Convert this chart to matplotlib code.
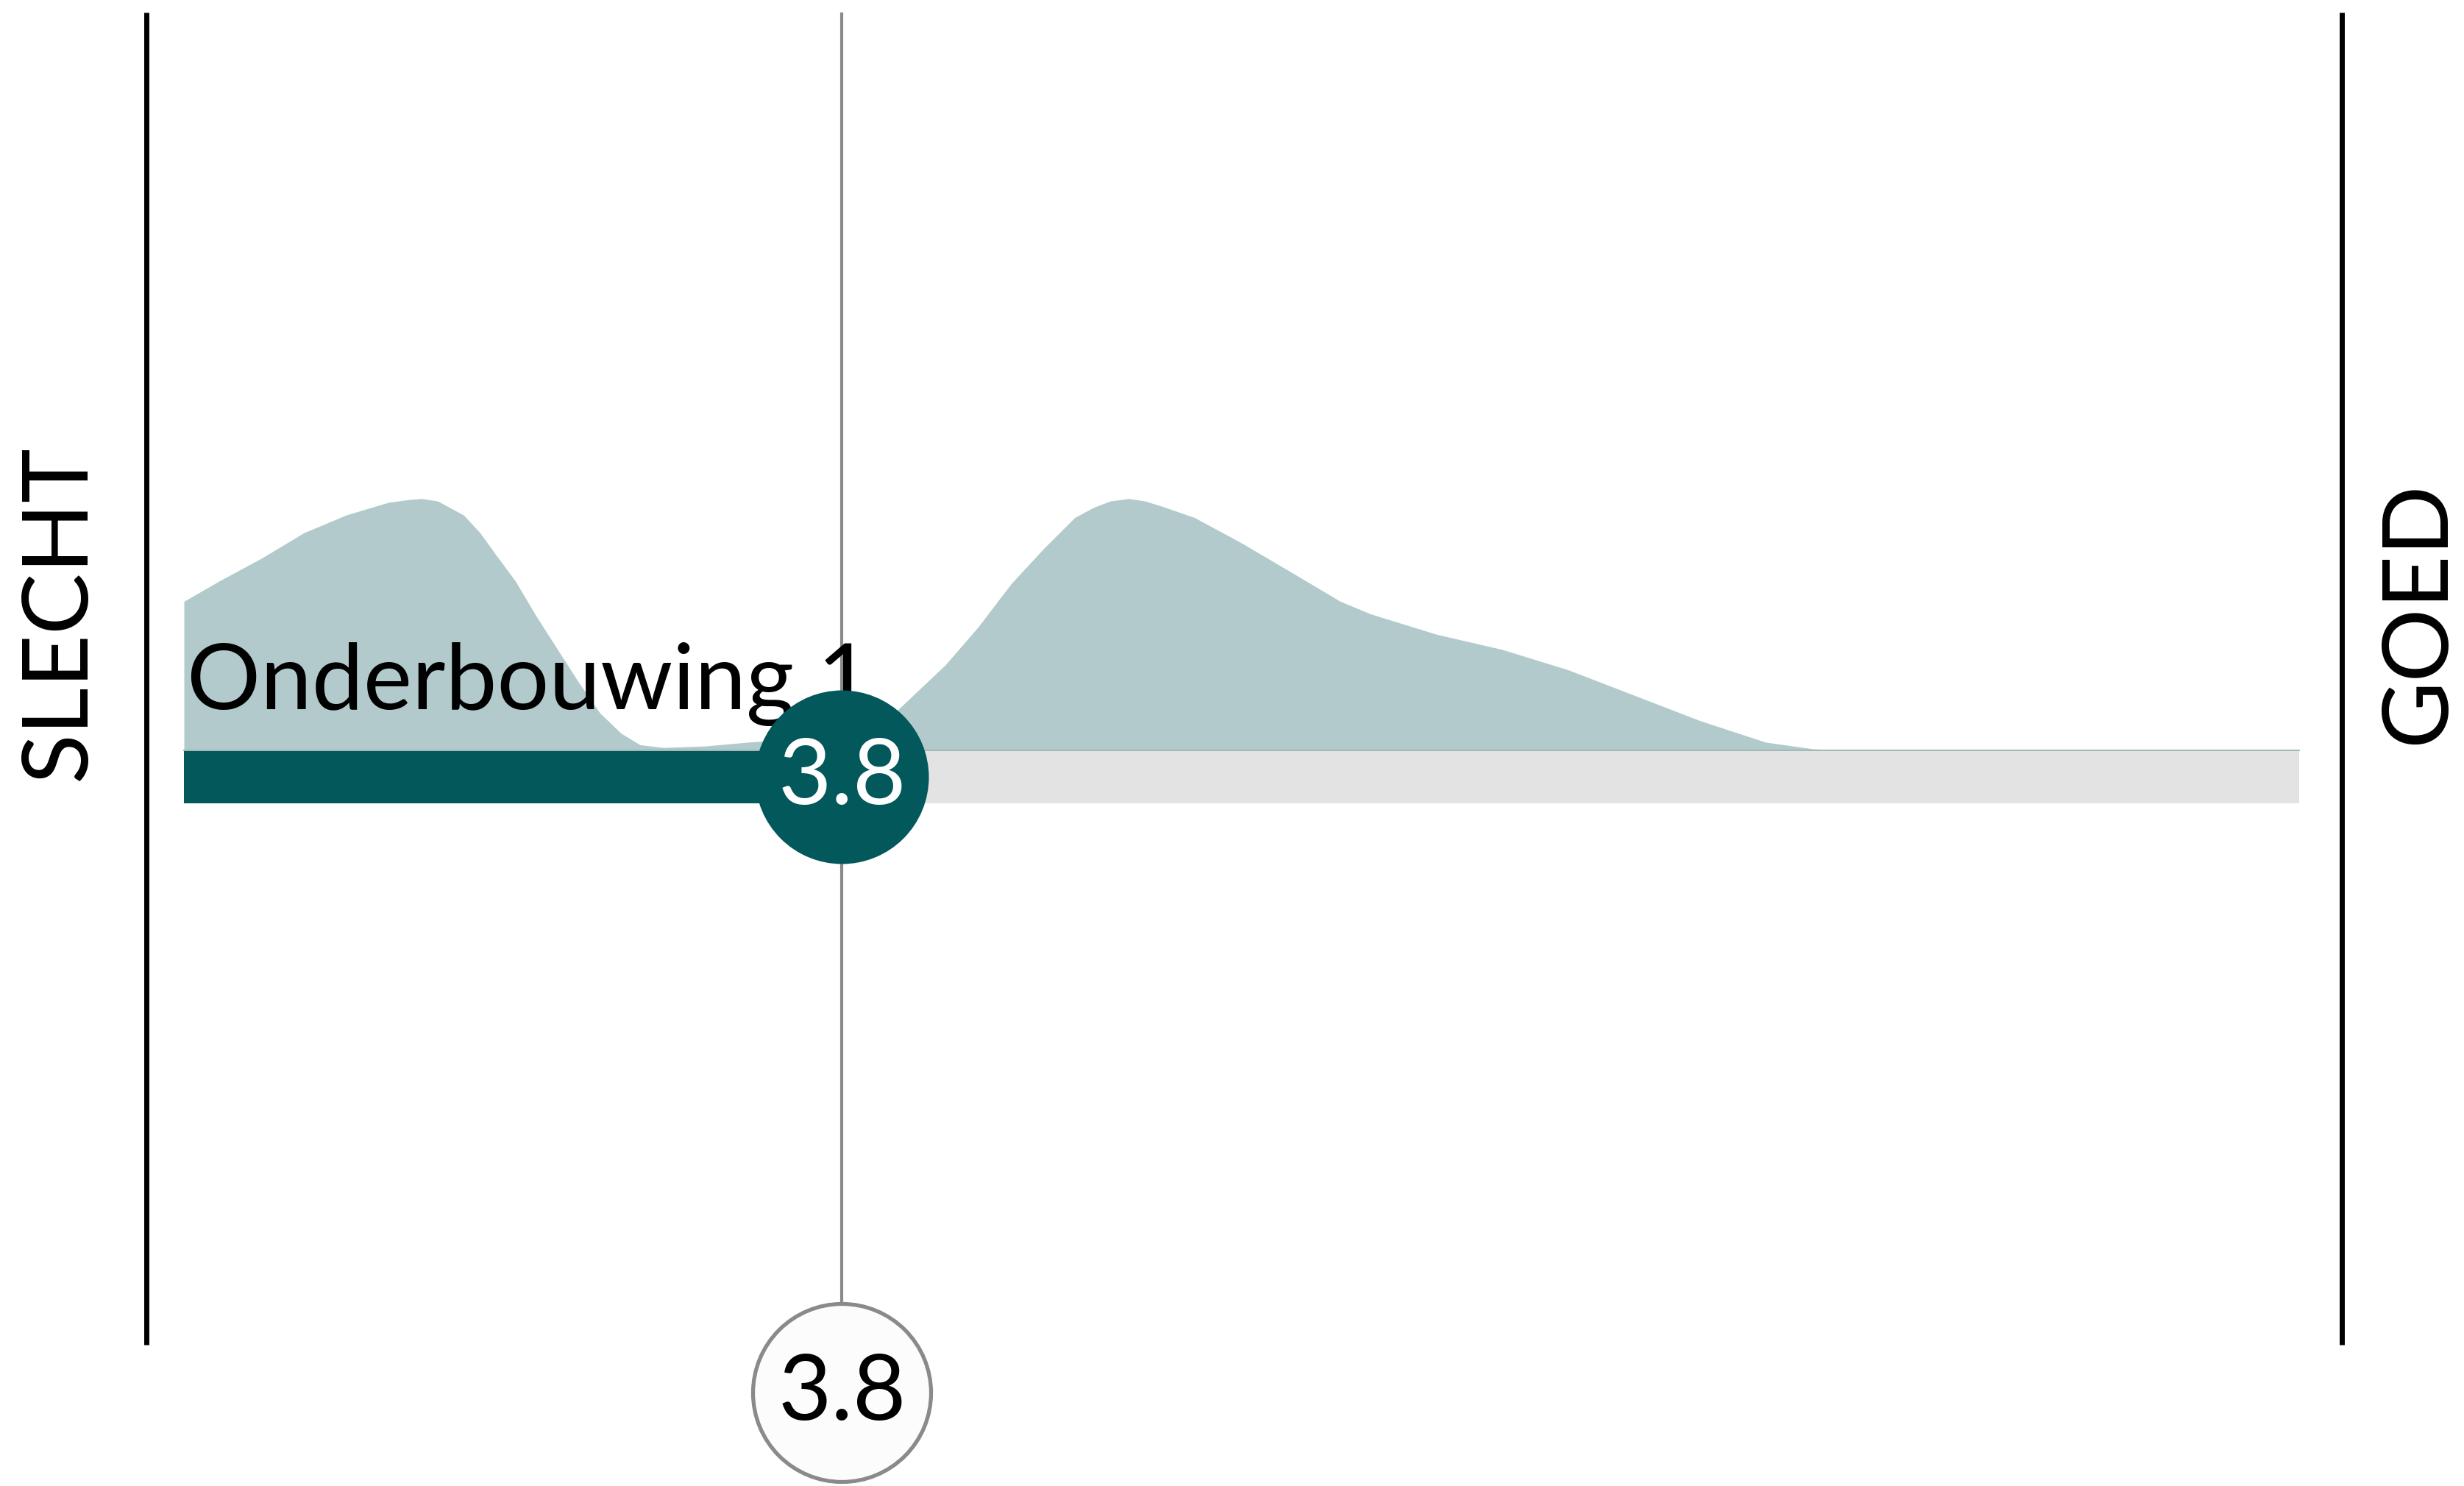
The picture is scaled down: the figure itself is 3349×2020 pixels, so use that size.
import matplotlib
matplotlib.use("Agg")
import matplotlib.pyplot as plt
import numpy as np

# ---------------- data ----------------
scale_min, scale_max = 1, 10
label = "Onderbouwing 1"
score = 3.8
average = 3.8
left_label = "SLECHT"
right_label = "GOED"

# density of answers (relative heights)
dens_x = [1.00, 1.15, 1.33, 1.51, 1.69, 1.87, 1.95, 2.01, 2.08, 2.19, 2.26, 2.33, 2.41,
          2.50, 2.59, 2.68, 2.77, 2.86, 2.94, 3.04, 3.22, 3.40, 3.49, 3.60, 3.70, 3.80,
          3.90, 3.97, 4.04, 4.24, 4.38, 4.52, 4.66, 4.79, 4.87, 4.94, 5.02, 5.09, 5.16,
          5.30, 5.50, 5.72, 5.92, 6.05, 6.33, 6.61, 6.89, 7.17, 7.45, 7.73, 7.93, 8.07,
          10.00]
dens_y = [0.59, 0.67, 0.76, 0.86, 0.93, 0.98, 0.99, 0.995, 0.985, 0.93, 0.86, 0.77, 0.67,
          0.53, 0.40, 0.27, 0.15, 0.07, 0.025, 0.014, 0.02, 0.035, 0.041, 0.05, 0.06, 0.075,
          0.10, 0.13, 0.165, 0.34, 0.49, 0.66, 0.80, 0.92, 0.96, 0.985, 0.995, 0.985, 0.965,
          0.92, 0.82, 0.70, 0.59, 0.54, 0.46, 0.40, 0.32, 0.22, 0.12, 0.035, 0.009, 0.0,
          0.0]

# ---------------- style / layout (pixels) ----------------
W, H = 3349, 2020
DPI = 100
px_left, px_right = 250, 3125          # pixel position of scale_min / scale_max
unit = (px_right - px_left) / (scale_max - scale_min)
x0 = scale_min - px_left / unit
x1 = scale_min + (W - px_left) / unit

DARK = "#02585b"
LIGHT = "#b2cacb"
BARGREY = "#e3e3e3"
LINEGREY = "#8a8a8a"
FONT = ["Lato", "DejaVu Sans"]

bar_top, bar_bot = 1021, 1092
dens_height = 345
circle_y = 1056
circle_r = 118
bottom_y = 1893
bottom_r = 121
line_top, line_bot = 17, 1828

fig = plt.figure(figsize=(W / DPI, H / DPI), dpi=DPI)
ax = fig.add_axes([0, 0, 1, 1])
ax.set_xlim(x0, x1)
ax.set_ylim(H, 0)
ax.axis("off")

def px2x(p):
    return scale_min + (p - px_left) / unit

# density
dx = np.array(dens_x)
dy = np.array(dens_y)
ax.fill_between(dx, bar_top, bar_top - dy * dens_height, color=LIGHT, lw=0, zorder=1)
ax.plot([scale_min, scale_max], [bar_top - 1, bar_top - 1], color="#a3b8b9", lw=1.5, zorder=2)

# bars
ax.fill_between([scale_min, scale_max], bar_top, bar_bot, color=BARGREY, lw=0, zorder=2)
ax.fill_between([scale_min, score], bar_top, bar_bot, color=DARK, lw=0, zorder=3)

# black side lines
ax.plot([px2x(199)] * 2, [line_top, line_bot], color="black", lw=5, solid_capstyle="butt", zorder=2)
ax.plot([px2x(3183)] * 2, [line_top, line_bot], color="black", lw=5, solid_capstyle="butt", zorder=2)

# side labels
ax.text(px2x(81), 833, left_label, rotation=90, ha="center", va="center",
        fontsize=90, family=FONT, color="black")
ax.text(px2x(3287), 833, right_label, rotation=90, ha="center", va="center",
        fontsize=90, family=FONT, color="black")

# average line
ax.plot([average, average], [line_top, bottom_y - bottom_r], color=LINEGREY, lw=3,
        solid_capstyle="butt", zorder=2.5)

# label
ax.text(px2x(254), 964, label, ha="left", va="baseline", fontsize=90, family=FONT,
        color="black", zorder=4)

# score circle
ms = 2 * circle_r * 72 / DPI
ax.plot([score], [circle_y], "o", ms=ms, color=DARK, mec="none", zorder=5)
ax.text(score, circle_y + 2, f"{score:.1f}", ha="center", va="center", fontsize=90,
        family=FONT, color="white", zorder=6)

# average circle
ms2 = 2 * bottom_r * 72 / DPI
ax.plot([average], [bottom_y], "o", ms=ms2, mfc="#fcfcfc", mec=LINEGREY, mew=3.8, zorder=5)
ax.text(average, bottom_y + 2, f"{average:.1f}", ha="center", va="center", fontsize=90,
        family=FONT, color="black", zorder=6)

fig.savefig("out.png", dpi=DPI, facecolor="white")
